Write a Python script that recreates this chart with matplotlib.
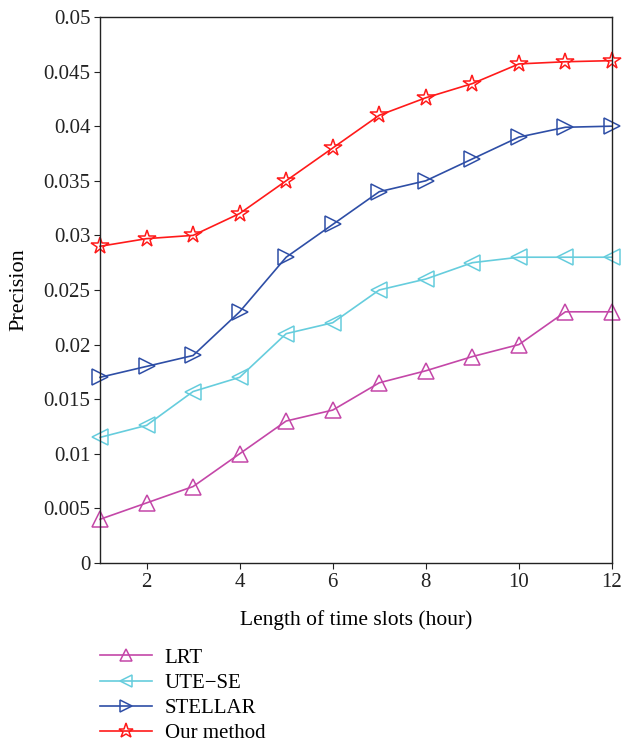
import matplotlib.pyplot as plt
import numpy as np

plt.rcParams['font.family'] = ['Liberation Serif', 'DejaVu Serif']

# time slot lengths (hour)
slots = np.arange(1, 13)

lrt = [0.0040, 0.0055, 0.0070, 0.0100, 0.0130, 0.0140, 0.0165, 0.0176, 0.0189, 0.0200, 0.0230, 0.0230]
ute_se = [0.0115, 0.0126, 0.0157, 0.0170, 0.0210, 0.0220, 0.0250, 0.0260, 0.0275, 0.0280, 0.0280, 0.0280]
stellar = [0.0170, 0.0180, 0.0190, 0.0230, 0.0280, 0.0310, 0.0340, 0.0350, 0.0370, 0.0390, 0.0399, 0.0400]
ours = [0.0290, 0.0297, 0.0300, 0.0320, 0.0350, 0.0380, 0.0410, 0.0426, 0.0439, 0.0457, 0.0459, 0.0460]

fig = plt.figure(figsize=(6.23, 7.44), dpi=100)
ax = fig.add_axes([0.1605, 0.2433, 0.8218, 0.7339])

ax.plot(slots, lrt, color='#c447a8', lw=1.2, marker='^', ms=11, mfc='none', mew=1.1,
        label='LRT', clip_on=False)
ax.plot(slots, ute_se, color='#66cddd', lw=1.2, marker='<', ms=11, mfc='none', mew=1.1,
        label='UTE\u2212SE', clip_on=False)
ax.plot(slots, stellar, color='#2e4ea6', lw=1.2, marker='>', ms=11, mfc='none', mew=1.1,
        label='STELLAR', clip_on=False)
ax.plot(slots, ours, color='#ff1a1a', lw=1.2, marker='*', ms=13, mfc='none', mew=1.1,
        label='Our method', clip_on=False)

ax.set_xlim(1, 12)
ax.set_ylim(0, 0.05)
ax.set_xticks([2, 4, 6, 8, 10, 12])
ax.set_yticks(np.arange(0, 0.0501, 0.005))
ax.set_yticklabels(['0', '0.005', '0.01', '0.015', '0.02', '0.025', '0.03',
                    '0.035', '0.04', '0.045', '0.05'])
ax.tick_params(direction='out', length=4, pad=3, labelsize=15, colors='#222222')
for s in ax.spines.values():
    s.set_color('#222222')
    s.set_linewidth(1.0)

ax.set_xlabel('Length of time slots (hour)', fontsize=15.5, labelpad=13)
ax.set_ylabel('Precision', fontsize=16, labelpad=11)

fig.legend(loc='upper left', bbox_to_anchor=(0.1605, 0.129), frameon=False,
           fontsize=15, handlelength=2.5, handletextpad=0.6, labelspacing=0.27,
           borderaxespad=0, borderpad=0, markerscale=0.85)

fig.savefig('out.png', dpi=100)
